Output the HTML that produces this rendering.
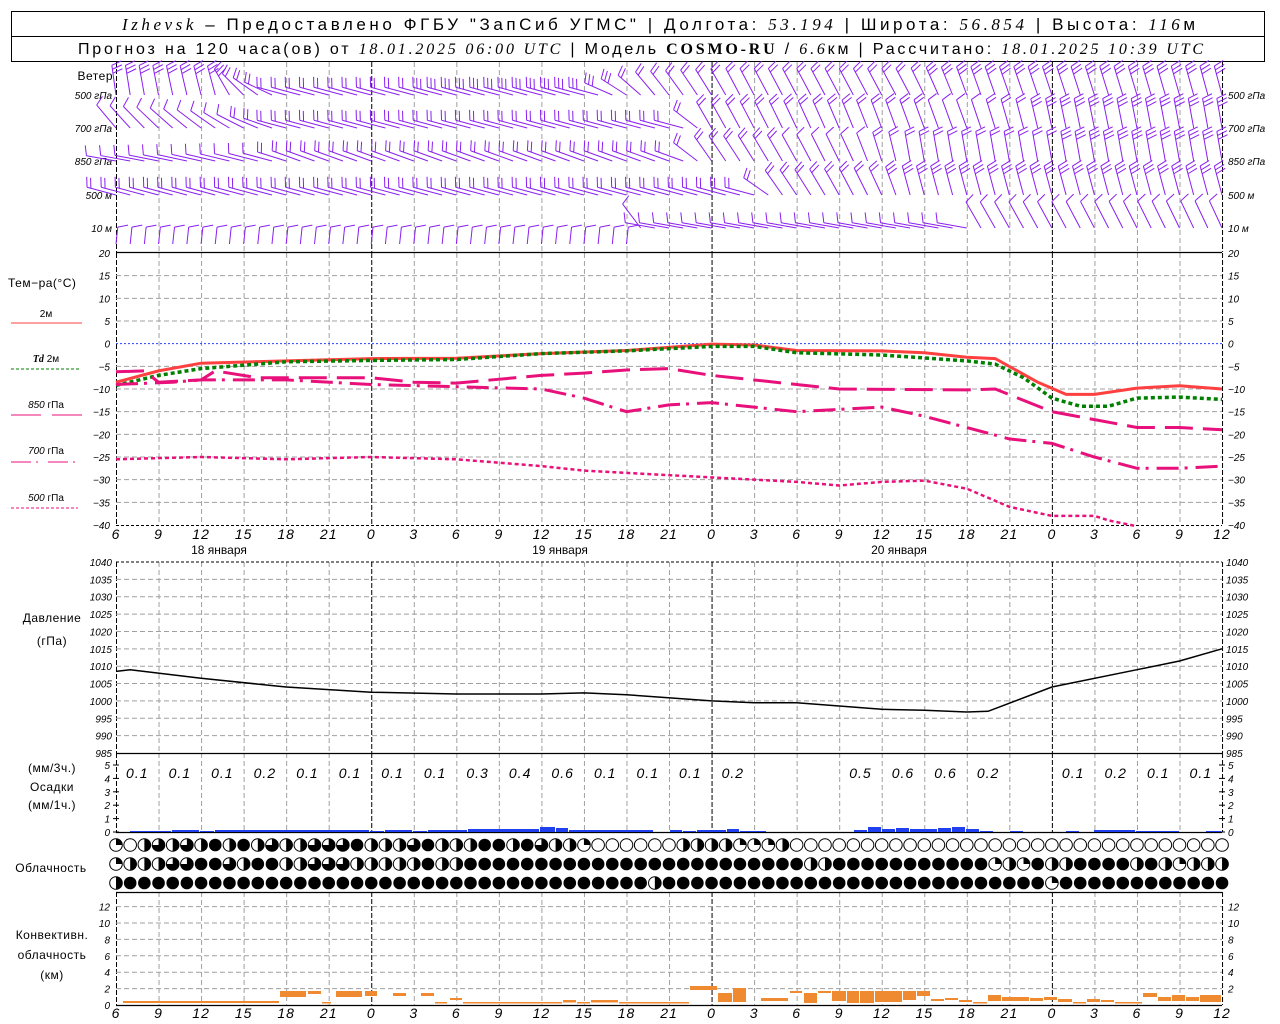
<!DOCTYPE html>
<html><head><meta charset="utf-8"><style>
html,body{margin:0;padding:0;background:#fff;}
svg{display:block;}
text{font-family:"Liberation Sans",sans-serif;fill:#000;}
.it{font-family:"Liberation Sans",sans-serif;font-style:italic;font-size:10px;}
.xl{font-family:"Liberation Sans",sans-serif;font-style:italic;font-size:14px;letter-spacing:1px;}
.lb{font-size:12px;letter-spacing:0.5px;}
</style></head><body>
<svg id="s" width="1280" height="1024" xmlns="http://www.w3.org/2000/svg">
<rect x="0" y="0" width="1280" height="1024" fill="#fff"/>
<rect x="11.5" y="11.5" width="1253" height="25" fill="none" stroke="#000"/>
<rect x="11.5" y="36.5" width="1253" height="25" fill="none" stroke="#000"/>
<text x="122" y="30" font-size="17" textLength="1073" lengthAdjust="spacing"><tspan font-family="Liberation Serif" font-style="italic">Izhevsk</tspan> – Предоставлено ФГБУ "ЗапСиб УГМС" | Долгота: <tspan font-family="Liberation Serif" font-style="italic">53.194</tspan> | Широта: <tspan font-family="Liberation Serif" font-style="italic">56.854</tspan> | Высота: <tspan font-family="Liberation Serif" font-style="italic">116</tspan>м</text>
<text x="78" y="54" font-size="16" textLength="1125" lengthAdjust="spacing">Прогноз на 120 часа(ов) от <tspan font-family="Liberation Serif" font-style="italic">18.01.2025 06:00 UTC</tspan> | Модель <tspan font-family="Liberation Serif" font-weight="bold">COSMO-RU</tspan> / <tspan font-family="Liberation Serif" font-style="italic">6.6</tspan>км | Рассчитано: <tspan font-family="Liberation Serif" font-style="italic">18.01.2025 10:39 UTC</tspan></text>
<g id="g"></g>
<text x="113" y="80" text-anchor="end" class="lb">Ветер</text>
<text x="8" y="287" class="lb">Тем−ра(°C)</text>
<text x="46" y="317" text-anchor="middle" font-size="10">2м</text>
<line x1="11" y1="323" x2="82" y2="323" stroke="#ff4040" stroke-width="1"/>
<text x="46" y="362" text-anchor="middle" font-size="10"><tspan font-style="italic" font-weight="bold" font-family="Liberation Serif">Td</tspan>  2м</text>
<line x1="11" y1="369" x2="80" y2="369" stroke="#008000" stroke-dasharray="3,2"/>
<text x="46" y="408" text-anchor="middle" font-size="10"><tspan font-style="italic">850</tspan> гПа</text>
<line x1="11" y1="415" x2="82" y2="415" stroke="#e8107a" stroke-dasharray="30,11"/>
<text x="46" y="454" text-anchor="middle" font-size="10"><tspan font-style="italic">700</tspan> гПа</text>
<line x1="11" y1="462" x2="78" y2="462" stroke="#e8107a" stroke-dasharray="20,5,2,10"/>
<text x="46" y="501" text-anchor="middle" font-size="10"><tspan font-style="italic">500</tspan> гПа</text>
<line x1="11" y1="508" x2="78" y2="508" stroke="#e8107a" stroke-dasharray="3,2"/>
<text x="52" y="622" text-anchor="middle" class="lb">Давление</text>
<text x="52" y="645" text-anchor="middle" class="lb">(гПа)</text>
<text x="52" y="772" text-anchor="middle" class="lb">(мм/3ч.)</text>
<text x="52" y="791" text-anchor="middle" class="lb">Осадки</text>
<text x="52" y="809" text-anchor="middle" class="lb">(мм/1ч.)</text>
<text x="51" y="872" text-anchor="middle" class="lb">Облачность</text>
<text x="52" y="939" text-anchor="middle" class="lb">Конвективн.</text>
<text x="52" y="959" text-anchor="middle" class="lb">облачность</text>
<text x="52" y="979" text-anchor="middle" class="lb">(км)</text>
<text x="219" y="554" text-anchor="middle" font-size="12">18 января</text>
<text x="560" y="554" text-anchor="middle" font-size="12">19 января</text>
<text x="899" y="554" text-anchor="middle" font-size="12">20 января</text>
</svg>
<script>
(function(){
var g=document.getElementById('g'),out='';
function X(h){return 116+h*14.18;}
function Ty(t){return 253+(20-t)*4.533;}
function Py(p){return 562+(1040-p)*3.473;}
function Cy(k){return 1005-k*8.2;}
function Ry(m){return 832-m*13.4;}
function L(x1,y1,x2,y2,st){out+='<line x1="'+x1+'" y1="'+y1+'" x2="'+x2+'" y2="'+y2+'" '+st+'/>';}
function T(x,y,s,cls,anc){out+='<text x="'+x+'" y="'+y+'" class="'+cls+'" text-anchor="'+(anc||'start')+'">'+s+'</text>';}
var gray='stroke="#a0a0a0" stroke-dasharray="5,3" stroke-width="1"';
var blk='stroke="#000" stroke-dasharray="5,2" stroke-width="1"';
var panels=[[62,252],[253,525],[562,753],[753,832],[892,1005]];
for(var h=0;h<=78;h+=3){var x=X(h)+0.5;var mid=(h==18||h==42||h==66);
 panels.forEach(function(p){L(x,p[0],x,p[1],(mid||h==0||h==78)?blk:gray);});}
for(var t=15;t>=-35;t-=5){if(t==0)continue;L(116,Ty(t),1222,Ty(t),gray);}
L(116,Ty(0),1222,Ty(0),'stroke="#2040ff" stroke-dasharray="2,2"');
for(var p=1035;p>985;p-=5)L(116,Py(p),1222,Py(p),gray);
L(116,Py(1040),1222,Py(1040),'stroke="#000" stroke-dasharray="3,2"');
for(var k=2;k<=12;k+=2)L(116,Cy(k),1222,Cy(k),gray);
[252.5,753.5,832.5,892.5,1005.5].forEach(function(y){L(116,y,1222,y,'stroke="#000" stroke-width="1.3"');});
L(116,525.5,1222,525.5,'stroke="#000" stroke-dasharray="3,2"');
for(var t=20;t>=-40;t-=5){T(110,Ty(t)+4,(t<0?'−':'')+Math.abs(t),'it','end');T(1228,Ty(t)+4,(t<0?'−':'')+Math.abs(t),'it');}
for(var p=1040;p>=985;p-=5){T(112,Py(p)+4,p,'it','end');T(1226,Py(p)+4,p,'it');}
for(var m=0;m<=5;m++){T(110,Ry(m)+4,m,'it','end');T(1228,Ry(m)+4,m,'it');L(113,Ry(m),119,Ry(m),'stroke="#000"');L(1219,Ry(m),1225,Ry(m),'stroke="#000"');}
for(var k=2;k<=12;k+=2){T(110,Cy(k)+4,k,'it','end');T(1228,Cy(k)+4,k,'it');}
T(110,1009,'0','it','end');
var wl=['500 гПа','700 гПа','850 гПа','500 м','10   м'],wy=[99,132,165,199,232];
for(var i=0;i<5;i++){T(112,wy[i],wl[i],'it','end');T(1228,wy[i],wl[i],'it');}
var hl=[6,9,12,15,18,21,0,3,6,9,12,15,18,21,0,3,6,9,12,15,18,21,0,3,6,9,12];
for(var i=0;i<hl.length;i++){T(X(i*3),539,hl[i],'xl','middle');T(X(i*3),1018,hl[i],'xl','middle');}
var col='#8a1ff0';
var rows=[
 {y:95,k:[[0,-8,3],[7,-15,3],[9,-45,2],[12,-75,2],[34,-75,3],[38,-40,2],[44,-28,2],[56,-28,2],[60,-20,3],[78,-15,3]]},
 {y:128,k:[[0,-40,1],[7,-55,1],[12,-75,2],[40,-75,2],[42,-30,2],[55,-20,2],[60,-20,1],[66,-12,3],[78,-10,3]]},
 {y:161,k:[[0,-80,1],[11,-75,1],[13,-70,2],[40,-70,2],[42,-35,2],[52,-25,1],[56,-10,2],[78,-10,3]]},
 {y:195,k:[[0,-75,2],[45,-75,2],[47,-35,2],[54,-25,2],[56,-15,3],[78,-15,3]]},
 {y:244,k:[[0,6,1],[36,6,1],[38,-80,1],[60,-80,1],[61,-30,1],[78,-25,1]]}
];
function interp(k,h){for(var i=0;i<k.length-1;i++){if(h<=k[i+1][0]){var a=k[i],b=k[i+1],f=(h-a[0])/(b[0]-a[0]||1);return [a[1]+(b[1]-a[1])*f,Math.round(a[2]+(b[2]-a[2])*f)];}}return [k[k.length-1][1],k[k.length-1][2]];}
rows.forEach(function(r,ri){for(var h=0;h<=78;h++){
 var v=interp(r.k,h),a=v[0]*Math.PI/180,n=v[1];
 var y0=r.y; if(ri==4&&h>=37)y0=228;
 var len=(ri==4&&h<37)?17:30;
 var ux=Math.sin(a),uy=-Math.cos(a),px=-uy,py=ux;
 var x0=X(h),x1=x0+ux*len,y1=y0+uy*len;
 out+='<line x1="'+x0+'" y1="'+y0+'" x2="'+x1+'" y2="'+y1+'" stroke="'+col+'" stroke-width="1"/>';
 for(var j=0;j<n;j++){var bx=x1-ux*j*4,by=y1-uy*j*4;
  out+='<line x1="'+bx+'" y1="'+by+'" x2="'+(bx+px*10+ux*3)+'" y2="'+(by+py*10+uy*3)+'" stroke="'+col+'" stroke-width="1"/>';}
}});
function poly(pts,fy,st){var s='';pts.forEach(function(p){s+=X(p[0]).toFixed(1)+','+fy(p[1]).toFixed(1)+' ';});out+='<polyline fill="none" points="'+s+'" '+st+'/>';}
poly([[0,-8.5],[3,-6],[6,-4.3],[12,-3.8],[18,-3.3],[24,-3.2],[30,-2.2],[36,-1.5],[42,-0.1],[45,-0.3],[48,-1.5],[54,-1.6],[57,-2],[60,-3],[62,-3.3],[65,-8.5],[67,-11.2],[69,-11.2],[72,-9.8],[75,-9.3],[78,-10]],Ty,'stroke="#ff4040" stroke-width="3"');
poly([[0,-9.2],[3,-7],[6,-5.5],[12,-4],[18,-3.7],[24,-3.5],[30,-2.2],[36,-1.6],[42,-0.6],[45,-0.6],[48,-2],[54,-2.5],[60,-3.8],[62,-4.5],[64,-7.5],[66,-12],[68,-13.8],[70,-13.8],[72,-12],[75,-11.8],[78,-12.3]],Ty,'stroke="#008000" stroke-width="3.5" stroke-dasharray="4,3"');
poly([[0,-6.2],[2,-6],[3,-8.5],[6,-8],[7,-6],[10,-7.5],[18,-7.5],[21,-8.5],[24,-8.7],[30,-7],[33,-6.5],[36,-5.8],[39,-5.5],[42,-7],[48,-9],[51,-10],[60,-10.2],[62,-10],[66,-15],[72,-18.5],[75,-18.5],[78,-19]],Ty,'stroke="#e8107a" stroke-width="3" stroke-dasharray="28,10"');
poly([[0,-9],[4,-8.5],[6,-8],[12,-8],[18,-9],[24,-9.5],[30,-10],[33,-12],[36,-15],[39,-13.5],[42,-13],[48,-15],[54,-14],[57,-16],[63,-21],[66,-22],[69,-25],[72,-27.5],[75,-27.5],[78,-27]],Ty,'stroke="#e8107a" stroke-width="3" stroke-dasharray="22,6,3,8"');
poly([[0,-25.5],[6,-25],[12,-25.5],[18,-25],[24,-25.5],[30,-27],[33,-28],[36,-28.5],[42,-29.5],[48,-30.5],[51,-31.3],[54,-30.5],[57,-30.2],[60,-32],[63,-36],[66,-38],[69,-38],[70,-39],[72,-40.3]],Ty,'stroke="#e8107a" stroke-width="2.5" stroke-dasharray="4,3"');
poly([[0,1008.5],[1,1009],[6,1006.5],[12,1004],[18,1002.5],[24,1002],[30,1002],[33,1002.3],[36,1001.8],[42,1000],[45,999.5],[48,999.5],[54,997.6],[57,997.3],[60,996.8],[61.5,997],[66,1004],[72,1009],[75,1011.5],[78,1015]],Py,'stroke="#000" stroke-width="1.5"');
var pl=['0.1','0.1','0.1','0.2','0.1','0.1','0.1','0.1','0.3','0.4','0.6','0.1','0.1','0.1','0.2','','','0.5','0.6','0.6','0.2','','0.1','0.2','0.1','0.1'];
pl.forEach(function(s,i){if(s)T(X(i*3+1.5),778,s,'xl','middle');});
var pb=[[130,172,1],[172,200,2],[200,215,1],[215,370,2],[370,385,1],[385,413,2],[413,428,1],[428,468,2],[468,540,3],[540,556,5],[556,569,4],[569,654,2],[670,683,2],[683,697,1],[697,727,2],[727,740,3],[740,767,1],[854,868,2],[868,882,5],[882,896,3],[896,910,4],[910,938,3],[938,952,4],[952,966,5],[966,980,3],[980,994,1],[1010,1024,1],[1066,1080,1],[1094,1136,2],[1136,1180,1],[1206,1222,1]];
pb.forEach(function(b){out+='<rect x="'+b[0]+'" y="'+(832-b[2])+'" width="'+(b[1]-b[0]-1)+'" height="'+b[2]+'" fill="#2040f0"/>';});
var cb=[[123,280,1001,1003],[280,307,991,997],[308,322,991,994],[322,332,1002,1003.5],[336,363,991,997],[365,378,991,996],[393,407,993,996],[421,435,993,996],[435,448,1002,1003.5],[450,463,998,1000],[463,563,1002,1003.5],[563,577,1000,1002.5],[577,591,1002,1003.5],[591,619,1000,1002.5],[619,690,1002,1003.5],[690,718,986,990],[718,733,993,1002],[733,747,988,1002],[761,789,998,1001],[790,803,991,993],[804,818,993,1003],[818,832,991,993],[832,847,991,1001],[847,860,991,1003],[860,875,991,1003],[875,903,991,1002],[903,917,991,1000],[917,931,991,996],[931,945,999,1001],[945,959,998,1000],[959,973,1000,1002],[973,988,1002,1003.5],[988,1002,995,1001],[1002,1030,997,1001],[1030,1044,998,1001],[1044,1058,997,1000],[1058,1073,999,1002],[1073,1087,1002,1003.5],[1087,1101,999,1002],[1101,1115,1000,1002],[1115,1143,1002,1003.5],[1143,1158,993,997],[1158,1172,997,1001],[1172,1186,995,1001],[1186,1200,997,1001],[1200,1222,995,1002]];
cb.forEach(function(b){out+='<rect x="'+b[0]+'" y="'+b[2]+'" width="'+(b[1]-b[0]-1)+'" height="'+(b[3]-b[2])+'" fill="#f08a30"/>';});
var r1='1023232424232233342'+'22342224424322100000022'+'221112000'+'0000000000000000000000000000';
var r2='1222334432442233322'+'22242244444444444444444'+'4444444'+'2244444444444'+'1214224444242122'+'2';
var r3='2444444444444444444444444444444444444424444444444444444444444444441444444444444';
function cir(cx,cy,t){var R=6.3;var s='';
 if(t=='4')s='<circle cx="'+cx+'" cy="'+cy+'" r="'+R+'" fill="#000"/>';
 else{s='<circle cx="'+cx+'" cy="'+cy+'" r="'+R+'" fill="#fff" stroke="#000" stroke-width="1"/>';
  if(t=='1')s+='<path d="M'+cx+','+cy+' L'+cx+','+(cy-R)+' A'+R+','+R+' 0 0 1 '+(cx+R)+','+cy+' Z" fill="#000"/>';
  if(t=='2')s+='<path d="M'+cx+','+(cy-R)+' A'+R+','+R+' 0 0 1 '+cx+','+(cy+R)+' Z" fill="#000"/>';
  if(t=='3')s+='<path d="M'+cx+','+cy+' L'+cx+','+(cy-R)+' A'+R+','+R+' 0 1 1 '+(cx-R)+','+cy+' Z" fill="#000"/>';}
 return s;}
[[r1,845],[r2,864],[r3,883]].forEach(function(rw){for(var h=0;h<=78;h++){out+=cir(X(h),rw[1],rw[0].charAt(h)||'4');}});
g.innerHTML=out;
})();
</script>
</body></html>
